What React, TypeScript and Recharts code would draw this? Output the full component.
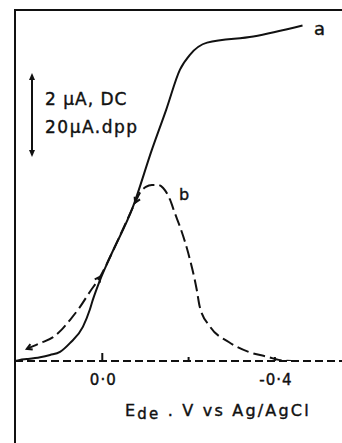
import { LineChart, Line, XAxis, YAxis } from "recharts";

// curve a: DC polarogram (µA), potential in V vs Ag/AgCl
const dcPotential = [0.202, 0.191, 0.175, 0.144, 0.121, 0.098, 0.075, 0.045, 0.029, 0.022, 0.005, -0.018, -0.071, -0.115, -0.148, -0.18, -0.203, -0.243, -0.35, -0.464];
const dcCurrent = [0, 0.03, 0.05, 0.1, 0.16, 0.24, 0.47, 0.9, 1.35, 1.61, 2.14, 2.74, 4.06, 5.57, 6.62, 7.68, 8.07, 8.39, 8.55, 8.84];

// curve b: differential pulse (µA)
const dppPotential = [0.175, 0.144, 0.114, 0.093, 0.075, 0.052, 0.029, 0.005, -0.018, -0.046, -0.076, -0.087, -0.101, -0.115, -0.129, -0.141, -0.157, -0.168, -0.18, -0.199, -0.219, -0.226, -0.25, -0.293, -0.339, -0.385, -0.409, -0.439];
const dppCurrent = [3.2, 4.7, 6.3, 8.4, 10.8, 14.2, 18.2, 22.2, 27.4, 34.3, 41.7, 44.3, 45.9, 46.4, 46.4, 45.6, 42.5, 39.0, 35.4, 28.5, 18.7, 14.2, 9.0, 5.0, 2.4, 1.05, 0.3, 0];

// scan-direction arrows on curve b (point index, previous point index)
const dppArrows = [
  { at: 0, from: 1 },
  { at: 7, from: 6 },
  { at: 10, from: 11 },
];

const tickValues = [0, -0.2, -0.4];
const tickLabels = ["0·0", "", "-0·4"];

const dcData = dcPotential.map((e, i) => ({ e, i: dcCurrent[i] }));
const dppData = dppPotential.map((e, i) => ({ e, i: dppCurrent[i] }));

const INK = "#111";
const FONT = "DejaVu Sans";
const textStyle = { fontFamily: FONT, fill: INK, stroke: INK, strokeWidth: 0.4 };

const PotentialTick = (props: any) => {
  const { x, y, payload } = props;
  const idx = tickValues.indexOf(payload.value);
  const h = payload.value === 0 ? 8 : 4;
  return (
    <g>
      <line x1={x} x2={x} y1={y} y2={y - h} stroke={INK} strokeWidth={2} />
      <text x={x + 1} y={y + 24} textAnchor="middle" fontSize={15} letterSpacing={1} {...textStyle}>
        {tickLabels[idx]}
      </text>
    </g>
  );
};

const AxisTitle = (props: any) => {
  const { viewBox } = props;
  return (
    <text x={viewBox.x + 110} y={viewBox.y + 55} fontSize={16} letterSpacing={2.2} {...textStyle}>
      <tspan>E</tspan>
      <tspan dy={3} fontSize={15}>de</tspan>
      <tspan dy={-3}>{" . V vs Ag/AgCl"}</tspan>
    </text>
  );
};

const ArrowDot = (props: any) => {
  const { cx, cy, index } = props;
  const a = dppArrows.find((d) => d.at === index);
  if (!a || cx == null) return <g key={`d${index}`} />;
  const dx = -(dppPotential[a.at] - dppPotential[a.from]) * 431.5;
  const dy = -(dppCurrent[a.at] - dppCurrent[a.from]) * 3.79;
  const len = Math.hypot(dx, dy) || 1;
  const ux = dx / len;
  const uy = dy / len;
  const s = 6;
  const c = Math.cos(Math.PI / 6);
  const sn = Math.sin(Math.PI / 6);
  const l1 = { x: cx - s * (ux * c - uy * sn), y: cy - s * (uy * c + ux * sn) };
  const l2 = { x: cx - s * (ux * c + uy * sn), y: cy - s * (uy * c - ux * sn) };
  return (
    <path
      key={`d${index}`}
      d={`M${l1.x},${l1.y} L${cx},${cy} L${l2.x},${l2.y}`}
      fill="none"
      stroke={INK}
      strokeWidth={2}
    />
  );
};

export default function App() {
  return (
    <div style={{ position: "absolute", left: 0, top: 0, width: 342, height: 443, background: "#fff", overflow: "hidden" }}>
      <div style={{ position: "absolute", left: 14, top: 9, width: 400, height: 500, borderLeft: `2px solid ${INK}`, borderTop: `2px solid ${INK}` }} />
      <div style={{ position: "absolute", left: 0, top: 0 }}>
        <LineChart width={342} height={443} margin={{ top: 10, right: 0, bottom: 0, left: 15 }}>
          <XAxis
            type="number"
            dataKey="e"
            domain={[-0.5555, 0.2023]}
            reversed
            allowDataOverflow
            ticks={tickValues}
            tick={<PotentialTick />}
            tickLine={false}
            tickSize={0}
            tickMargin={0}
            height={82}
            axisLine={{ stroke: INK, strokeWidth: 2, strokeDasharray: "8 4" }}
            label={{ content: <AxisTitle /> }}
          />
          <YAxis yAxisId="dc" hide domain={[0, 9.25]} allowDataOverflow />
          <YAxis yAxisId="dpp" hide domain={[0, 92.5]} allowDataOverflow />
          <Line yAxisId="dc" data={dcData} dataKey="i" type="monotone" stroke={INK} strokeWidth={2} dot={false} isAnimationActive={false} />
          <Line yAxisId="dpp" data={dppData} dataKey="i" type="monotone" stroke={INK} strokeWidth={2} strokeDasharray="12 5" dot={<ArrowDot />} activeDot={false} isAnimationActive={false} />
        </LineChart>
      </div>
      <svg width={342} height={443} style={{ position: "absolute", left: 0, top: 0, pointerEvents: "none" }}>
        <line x1={32} x2={32} y1={77} y2={153} stroke={INK} strokeWidth={2} />
        <path d="M29,80 L32,73 L35,80 Z" fill={INK} />
        <path d="M29,150 L32,157 L35,150 Z" fill={INK} />
        <text x={45} y={105} fontSize={17} letterSpacing={1} {...textStyle}>2 μA, DC</text>
        <text x={45} y={133} fontSize={17} letterSpacing={1.5} {...textStyle}>20μA.dpp</text>
        <text x={314} y={35} fontSize={18} {...textStyle}>a</text>
        <text x={179} y={200} fontSize={16} {...textStyle}>b</text>
      </svg>
    </div>
  );
}
